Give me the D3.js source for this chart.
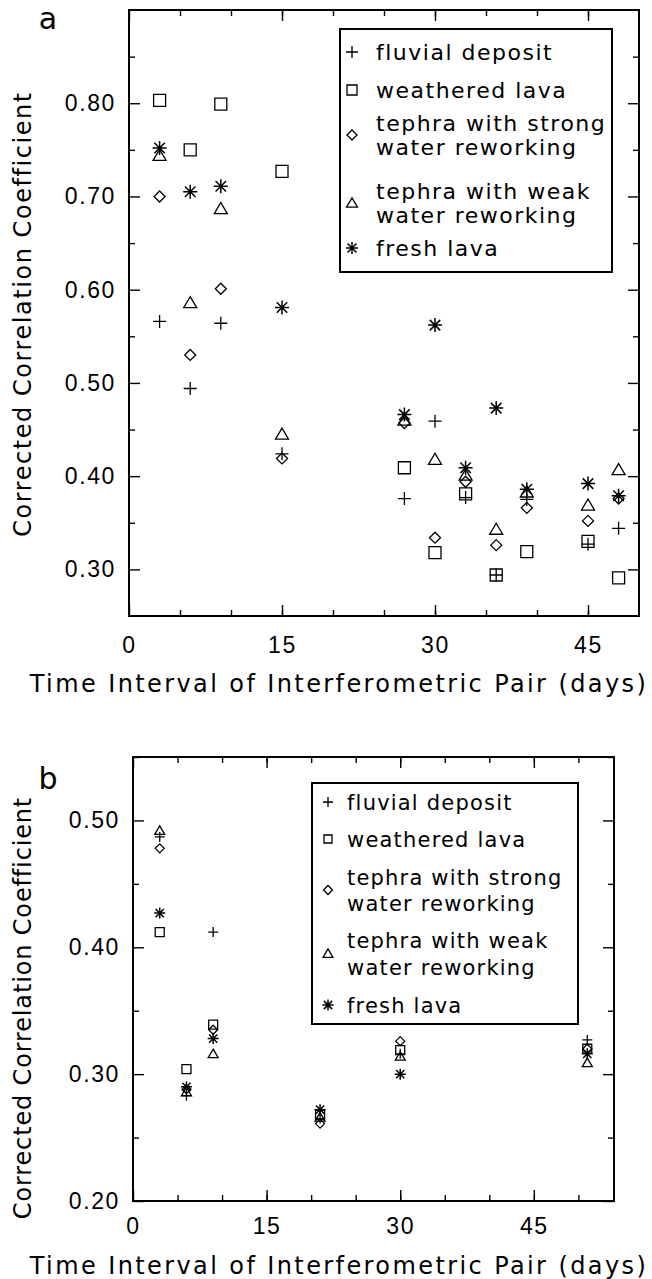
<!DOCTYPE html>
<meta charset="utf-8">
<style>
body { margin: 0; background: #fff; }
svg { display: block; font-family: "DejaVu Sans", sans-serif; }
.tick text { font-size: 23px; letter-spacing: 1.6px; fill: #000; }
.tick line { stroke: #000; stroke-width: 1.4px; }
.frame { fill: none; stroke: #000; stroke-width: 2px; }
.mark { fill: none; stroke: #000; stroke-width: 1.3px; }
.mark.star { stroke-width: 1.5px; }
.legend-box { fill: #fff; stroke: #000; stroke-width: 2px; }
.pa .legend text { font-size: 22px; letter-spacing: 1.5px; }
.pb .legend text { font-size: 21px; letter-spacing: 1.2px; }
.xtitle { font-size: 24px; letter-spacing: 2.4px; }
.pa .ytitle { font-size: 24px; letter-spacing: 1.55px; }
.pb .ytitle { font-size: 24px; letter-spacing: 0.85px; }
.plabel { font-size: 30px; }
</style>
<body>
<script src="https://d3js.org/d3.v7.min.js"></script>
<script>
// ---- data, panel a ----
var daysA = [3, 6, 9, 15, 27, 30, 33, 36, 39, 45, 48];
var fluvialA   = [0.566, 0.494, 0.564, 0.424, 0.376, 0.459, 0.377, 0.294, 0.375, 0.327, 0.344];
var weatheredA = [0.803, 0.750, 0.799, 0.727, 0.409, 0.318, 0.381, 0.294, 0.319, 0.330, 0.291];
var strongA    = [0.700, 0.530, 0.601, 0.419, 0.457, 0.334, 0.394, 0.326, 0.366, 0.352, 0.376];
var weakA      = [0.744, 0.586, 0.687, 0.445, 0.460, 0.418, 0.401, 0.343, 0.383, 0.369, 0.407];
var freshA     = [0.752, 0.705, 0.711, 0.581, 0.466, 0.562, 0.409, 0.473, 0.386, 0.392, 0.379];

// ---- data, panel b ----
var daysB = [3, 6, 9, 21, 30, 51];
var fluvialB   = [0.487, 0.283, 0.412, 0.265, 0.316, 0.327];
var weatheredB = [0.412, 0.304, 0.339, 0.268, 0.319, 0.320];
var strongB    = [0.478, 0.288, 0.335, 0.261, 0.326, 0.320];
var weakB      = [0.492, 0.286, 0.316, 0.266, 0.314, 0.309];
var freshB     = [0.427, 0.290, 0.328, 0.272, 0.300, 0.316];

// ---- ticks and text ----
var xTicks = [0, 15, 30, 45];
var yTicksA = [0.30, 0.40, 0.50, 0.60, 0.70, 0.80];
var yTicksB = [0.20, 0.30, 0.40, 0.50];
var legendLines = [["fluvial deposit"], ["weathered lava"],
    ["tephra with strong", "water reworking"],
    ["tephra with weak", "water reworking"], ["fresh lava"]];
var symbolNames = ["plus", "square", "diamond", "triangle", "star"];
var xTitle = "Time Interval of Interferometric Pair (days)";
var yTitle = "Corrected Correlation Coefficient";

// hollow marker shapes for d3.symbol, size = width squared
var shapes = {
    plus: { draw: function(c, s) { var r = Math.sqrt(s) / 2;
        c.moveTo(-r, 0); c.lineTo(r, 0); c.moveTo(0, -r); c.lineTo(0, r); } },
    square: { draw: function(c, s) { var r = Math.sqrt(s) / 2;
        c.rect(-r, -r, 2 * r, 2 * r); } },
    diamond: { draw: function(c, s) { var r = Math.sqrt(s) / 2;
        c.moveTo(0, -r); c.lineTo(r, 0); c.lineTo(0, r); c.lineTo(-r, 0); c.closePath(); } },
    triangle: { draw: function(c, s) { var r = Math.sqrt(s) / 2, h = r * 1.7;
        c.moveTo(0, -h * 0.55); c.lineTo(r, h * 0.45); c.lineTo(-r, h * 0.45); c.closePath(); } },
    star: { draw: function(c, s) { var r = Math.sqrt(s) / 2, d = r * 0.75;
        c.moveTo(-r, 0); c.lineTo(r, 0); c.moveTo(0, -r); c.lineTo(0, r);
        c.moveTo(-d, -d); c.lineTo(d, d); c.moveTo(-d, d); c.lineTo(d, -d); } }
};

var svg = d3.select("body").append("svg")
    .attr("width", 652)
    .attr("height", 1279);

function drawPanel(p) {
    var x = d3.scaleLinear().domain(p.xDomain).range([p.left, p.right]);
    var y = d3.scaleLinear().domain(p.yDomain).range([p.bottom, p.top]);
    var g = svg.append("g").attr("class", p.cls);
    var xMinor = d3.range(5, p.xDomain[1], 5);
    var yMinor = p.yTicks.map(function(v) { return v + 0.05; });

    function axis(gen, pos, vals, size, pad, fmt) {
        var a = g.append("g").attr("transform", pos)
            .call(gen.tickValues(vals).tickSize(-size).tickPadding(pad).tickFormat(fmt));
        a.select(".domain").remove();
        a.selectAll("text").attr("font-family", null).attr("font-size", null);
        return a;
    }
    var none = function() { return ""; };
    // minor ticks all round
    axis(d3.axisBottom(x), "translate(0," + p.bottom + ")", xMinor, 6, 0, none);
    axis(d3.axisTop(x), "translate(0," + p.top + ")", xMinor, 6, 0, none);
    axis(d3.axisLeft(y), "translate(" + p.left + ",0)", yMinor, 6, 0, none);
    axis(d3.axisRight(y), "translate(" + p.right + ",0)", yMinor, 6, 0, none);
    // major ticks, labels bottom and left
    axis(d3.axisBottom(x), "translate(0," + p.bottom + ")", xTicks, 11, p.xPad, d3.format("d"));
    axis(d3.axisTop(x), "translate(0," + p.top + ")", xTicks, 11, 0, none);
    axis(d3.axisLeft(y), "translate(" + p.left + ",0)", p.yTicks, 11, 13, d3.format(".2f"));
    axis(d3.axisRight(y), "translate(" + p.right + ",0)", p.yTicks, 11, 0, none);

    g.append("rect").attr("class", "frame")
        .attr("x", p.left).attr("y", p.top)
        .attr("width", p.right - p.left).attr("height", p.bottom - p.top);

    // points
    p.series.forEach(function(vals, i) {
        var name = symbolNames[i];
        var sym = d3.symbol().type(shapes[name]).size(p.sizes[i] * p.sizes[i]);
        g.append("g").selectAll("path")
            .data(vals.map(function(v, j) { return [p.days[j], v]; }))
            .enter().append("path")
            .attr("class", "mark " + name)
            .attr("transform", function(d) { return "translate(" + x(d[0]) + "," + y(d[1]) + ")"; })
            .attr("d", sym);
    });

    // legend
    var lg = g.append("g").attr("class", "legend");
    lg.append("rect").attr("class", "legend-box")
        .attr("x", p.legend.x0).attr("y", p.legend.y0)
        .attr("width", p.legend.x1 - p.legend.x0).attr("height", p.legend.y1 - p.legend.y0);
    legendLines.forEach(function(lines, i) {
        var rows = p.legend.rows[i];
        var my = d3.mean(rows);
        var name = symbolNames[i];
        lg.append("path").attr("class", "mark " + name)
            .attr("transform", "translate(" + p.legend.mx + "," + my + ")")
            .attr("d", d3.symbol().type(shapes[name]).size(p.legend.sizes[i] * p.legend.sizes[i]));
        lines.forEach(function(t, k) {
            lg.append("text").attr("x", p.legend.tx).attr("y", rows[k])
                .attr("dy", "0.36em").text(t);
        });
    });

    // titles
    g.append("text").attr("class", "xtitle")
        .attr("x", p.xTitleX).attr("y", p.xTitleY)
        .attr("text-anchor", "middle").attr("dy", "0.36em").text(xTitle);
    g.append("text").attr("class", "ytitle")
        .attr("transform", "translate(" + p.yTitleX + "," + p.yTitleY + ") rotate(-90)")
        .attr("text-anchor", "middle").attr("dy", "0.36em").text(yTitle);
    g.append("text").attr("class", "plabel")
        .attr("x", p.labelX).attr("y", p.labelY)
        .attr("text-anchor", "middle").attr("dy", "0.36em").text(p.label);
}

drawPanel({
    cls: "pa", label: "a", labelX: 48, labelY: 18,
    left: 129, right: 639, top: 10, bottom: 616,
    xDomain: [0, 50], yDomain: [0.25, 0.90], yTicks: yTicksA, xPad: 21,
    days: daysA, series: [fluvialA, weatheredA, strongA, weakA, freshA],
    sizes: [13, 12, 11, 13, 14],
    xTitleX: 339, xTitleY: 683, yTitleX: 22, yTitleY: 314,
    legend: { x0: 340, x1: 612, y0: 29, y1: 272, mx: 352, tx: 376,
        rows: [[52], [90], [123, 147], [191, 215], [248]], sizes: [12, 10, 10, 11, 12] }
});

drawPanel({
    cls: "pb", label: "b", labelX: 48, labelY: 778,
    left: 133, right: 614, top: 757, bottom: 1201,
    xDomain: [0, 54], yDomain: [0.20, 0.55], yTicks: yTicksB, xPad: 17,
    days: daysB, series: [fluvialB, weatheredB, strongB, weakB, freshB],
    sizes: [10, 9, 9, 10, 11],
    xTitleX: 339, xTitleY: 1265, yTitleX: 22, yTitleY: 1008,
    legend: { x0: 312, x1: 578, y0: 783, y1: 1024, mx: 328, tx: 347,
        rows: [[802], [839], [877, 903], [940, 967], [1005]], sizes: [10, 8, 9, 10, 11] }
});
</script>
</body>
